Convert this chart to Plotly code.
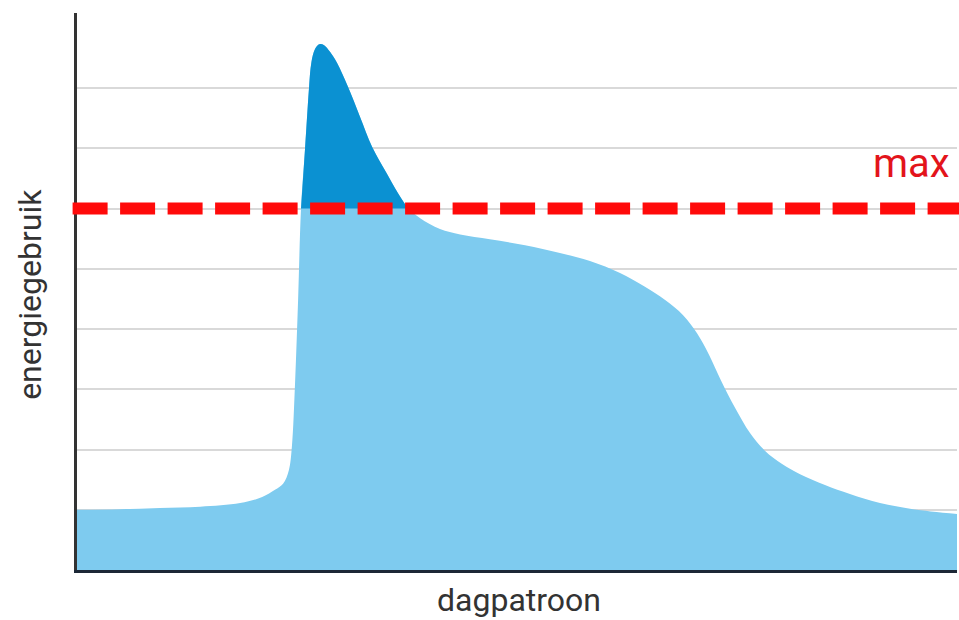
import plotly.graph_objects as go

# hours of the day (x) and energy use (y)
hours = [0.0, 1.17, 2.26, 3.36, 4.45, 5.05, 5.4, 5.62, 5.78, 5.86, 5.95, 6.03,
         6.11, 6.22, 6.33, 6.38, 6.46, 6.55, 6.63, 6.74, 6.9, 7.09, 7.39, 7.72,
         8.05, 8.43, 8.76, 9.03, 9.36, 9.9, 10.45, 11.26, 12.22, 13.17, 13.99,
         14.81, 15.49, 16.04, 16.53, 16.91, 17.24, 17.56, 17.95, 18.36, 18.76,
         19.23, 19.72, 20.4, 21.08, 21.9, 22.8, 24.0]
usage = [1.0, 1.01, 1.03, 1.05, 1.11, 1.21, 1.33, 1.43, 1.66, 2.04, 3.15, 4.48,
         6.0, 7.0, 8.02, 8.37, 8.6, 8.7, 8.73, 8.71, 8.6, 8.42, 8.02, 7.52,
         7.02, 6.6, 6.25, 6.0, 5.84, 5.66, 5.57, 5.49, 5.39, 5.26, 5.13,
         4.93, 4.7, 4.48, 4.23, 3.93, 3.57, 3.15, 2.69, 2.27, 1.98,
         1.76, 1.59, 1.41, 1.26, 1.11, 1.01, 0.93]
max_level = 6.0
grid_levels = [1, 2, 3, 4, 5, 6, 7, 8]

light_blue = "#7ecbef"
dark_blue = "#0b91d2"
red = "#ff0a0a"

# peak part above the max level
peak_x = [h for h, u in zip(hours, usage) if u >= max_level]
peak_y = [u for u in usage if u >= max_level]

fig = go.Figure()
fig.add_trace(go.Scatter(
    x=hours, y=usage, mode="lines",
    line=dict(shape="spline", smoothing=1.0, width=0, color=light_blue),
    fill="tozeroy", fillcolor=light_blue, hoverinfo="skip", showlegend=False))
fig.add_trace(go.Scatter(
    x=[peak_x[0], peak_x[-1]], y=[max_level, max_level], mode="lines",
    line=dict(width=0, color=dark_blue), hoverinfo="skip", showlegend=False))
fig.add_trace(go.Scatter(
    x=peak_x, y=peak_y, mode="lines",
    line=dict(shape="spline", smoothing=1.0, width=0, color=dark_blue),
    fill="tonexty", fillcolor=dark_blue, hoverinfo="skip", showlegend=False))

fig.add_shape(type="line", xref="paper", yref="y", x0=-0.005, x1=1.003,
              y0=max_level, y1=max_level, layer="above",
              line=dict(color=red, width=12, dash="35px,12.5px"))

fig.add_annotation(text="max", xref="paper", yref="paper", x=0.994, y=0.729,
                   xanchor="right", yanchor="middle", showarrow=False,
                   font=dict(family="Roboto", size=40, color="#e3141b"))
fig.add_annotation(text="energiegebruik", xref="paper", yref="paper",
                   x=-0.0534, y=0.494, textangle=-90, xanchor="center",
                   yanchor="middle", showarrow=False,
                   font=dict(family="Roboto", size=32, color="#333333"))
fig.add_annotation(text="dagpatroon", xref="paper", yref="paper",
                   x=0.502, y=-0.0535, xanchor="center", yanchor="middle",
                   showarrow=False, borderpad=0,
                   font=dict(family="Roboto", size=32, color="#333333"))

fig.update_xaxes(range=[0, 24], showgrid=False, zeroline=False,
                 showticklabels=False, ticks="", showline=True,
                 linecolor="#1c2836", linewidth=3)
fig.update_yaxes(range=[0, 9.245], tickvals=grid_levels, showgrid=True,
                 gridcolor="#d9d9d9", gridwidth=2, zeroline=False,
                 showticklabels=False, ticks="", showline=True,
                 linecolor="#333333", linewidth=3)

fig.update_layout(width=959, height=620,
                  margin=dict(l=77, r=2, t=13, b=50),
                  paper_bgcolor="white", plot_bgcolor="white",
                  showlegend=False)

fig.write_html("out.html", config={"displayModeBar": False},
               post_script="document.body.style.margin='0px';"
                           "document.body.style.overflow='hidden';")
